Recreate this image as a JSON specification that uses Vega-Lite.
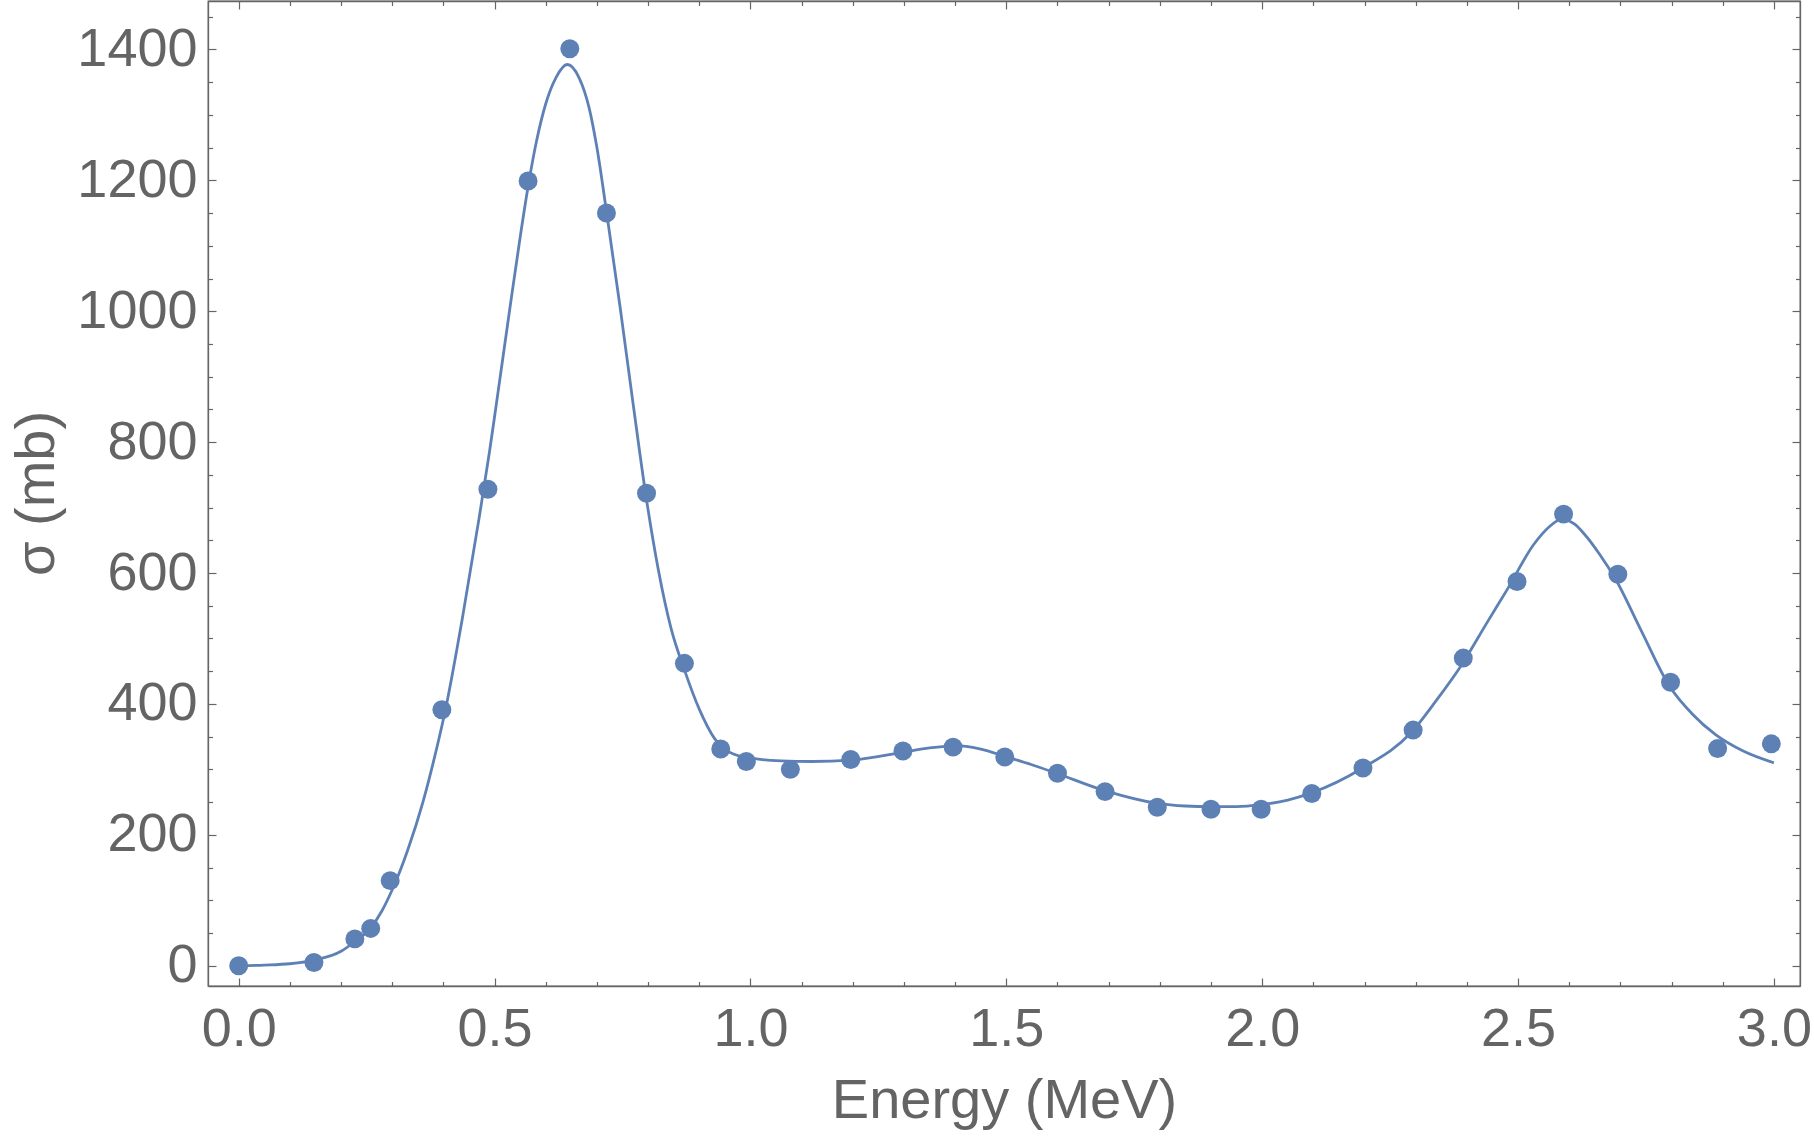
{
  "$schema": "https://vega.github.io/schema/vega-lite/v6.json",
  "width": 1592,
  "height": 985,
  "autosize": "none",
  "padding": {"left": 208, "top": 1, "right": 14, "bottom": 150},
  "background": "white",
  "datasets": {
    "fit": [
      {"E": 0.0, "sigma": 0},
      {"E": 0.05, "sigma": 1},
      {"E": 0.1, "sigma": 3},
      {"E": 0.15, "sigma": 9},
      {"E": 0.2, "sigma": 22},
      {"E": 0.227, "sigma": 37},
      {"E": 0.258, "sigma": 58},
      {"E": 0.28, "sigma": 84},
      {"E": 0.3, "sigma": 116},
      {"E": 0.33, "sigma": 176},
      {"E": 0.36, "sigma": 250},
      {"E": 0.38, "sigma": 310},
      {"E": 0.405, "sigma": 395},
      {"E": 0.438, "sigma": 535},
      {"E": 0.47, "sigma": 685},
      {"E": 0.49, "sigma": 785},
      {"E": 0.502, "sigma": 850},
      {"E": 0.53, "sigma": 1005},
      {"E": 0.55, "sigma": 1113},
      {"E": 0.5665, "sigma": 1195},
      {"E": 0.582, "sigma": 1260},
      {"E": 0.6, "sigma": 1317},
      {"E": 0.62, "sigma": 1357},
      {"E": 0.642, "sigma": 1377},
      {"E": 0.665, "sigma": 1357},
      {"E": 0.685, "sigma": 1310},
      {"E": 0.7, "sigma": 1250},
      {"E": 0.72, "sigma": 1145},
      {"E": 0.745, "sigma": 1008},
      {"E": 0.771, "sigma": 857},
      {"E": 0.795, "sigma": 722},
      {"E": 0.82, "sigma": 605},
      {"E": 0.845, "sigma": 515},
      {"E": 0.871, "sigma": 452},
      {"E": 0.9, "sigma": 392},
      {"E": 0.93, "sigma": 347},
      {"E": 0.96, "sigma": 326},
      {"E": 1.0, "sigma": 317},
      {"E": 1.06, "sigma": 313},
      {"E": 1.12, "sigma": 312},
      {"E": 1.196, "sigma": 314},
      {"E": 1.297, "sigma": 326},
      {"E": 1.35, "sigma": 333},
      {"E": 1.41, "sigma": 336},
      {"E": 1.45, "sigma": 331},
      {"E": 1.497, "sigma": 320},
      {"E": 1.55, "sigma": 307},
      {"E": 1.598, "sigma": 294},
      {"E": 1.694, "sigma": 267},
      {"E": 1.795, "sigma": 248},
      {"E": 1.85, "sigma": 244},
      {"E": 1.899, "sigma": 243},
      {"E": 1.95, "sigma": 243},
      {"E": 1.998, "sigma": 246},
      {"E": 2.05, "sigma": 253},
      {"E": 2.096, "sigma": 264},
      {"E": 2.194, "sigma": 301},
      {"E": 2.292, "sigma": 357},
      {"E": 2.34, "sigma": 405},
      {"E": 2.39, "sigma": 460},
      {"E": 2.44, "sigma": 525},
      {"E": 2.479, "sigma": 575},
      {"E": 2.531, "sigma": 644},
      {"E": 2.56, "sigma": 670},
      {"E": 2.585, "sigma": 682},
      {"E": 2.61, "sigma": 675},
      {"E": 2.629, "sigma": 660},
      {"E": 2.66, "sigma": 628},
      {"E": 2.691, "sigma": 590},
      {"E": 2.74, "sigma": 513},
      {"E": 2.796, "sigma": 427},
      {"E": 2.84, "sigma": 385},
      {"E": 2.886, "sigma": 353},
      {"E": 2.94, "sigma": 328},
      {"E": 3.0, "sigma": 310}
    ],
    "measured": [
      {"E": 0.0, "sigma": 0},
      {"E": 0.147, "sigma": 5},
      {"E": 0.227, "sigma": 41},
      {"E": 0.258, "sigma": 57},
      {"E": 0.296, "sigma": 130},
      {"E": 0.397, "sigma": 391},
      {"E": 0.487, "sigma": 728},
      {"E": 0.5655, "sigma": 1199},
      {"E": 0.647, "sigma": 1401},
      {"E": 0.7186, "sigma": 1150},
      {"E": 0.797, "sigma": 722},
      {"E": 0.871, "sigma": 462},
      {"E": 0.942, "sigma": 331},
      {"E": 0.992, "sigma": 312},
      {"E": 1.078, "sigma": 300},
      {"E": 1.196, "sigma": 315},
      {"E": 1.298, "sigma": 328},
      {"E": 1.396, "sigma": 334},
      {"E": 1.497, "sigma": 319},
      {"E": 1.6, "sigma": 294},
      {"E": 1.693, "sigma": 266},
      {"E": 1.795, "sigma": 242},
      {"E": 1.9, "sigma": 239},
      {"E": 1.998, "sigma": 239},
      {"E": 2.097, "sigma": 263},
      {"E": 2.197, "sigma": 302},
      {"E": 2.295, "sigma": 360},
      {"E": 2.393, "sigma": 470},
      {"E": 2.498, "sigma": 587},
      {"E": 2.589, "sigma": 690},
      {"E": 2.695, "sigma": 598},
      {"E": 2.798, "sigma": 433},
      {"E": 2.89, "sigma": 332},
      {"E": 2.995, "sigma": 339}
    ]
  },
  "layer": [
    {
      "data": {"name": "fit"},
      "mark": {"type": "line", "color": "#5E81B5", "strokeWidth": 2.8, "interpolate": "monotone", "clip": true},
      "encoding": {
        "x": {
          "field": "E",
          "type": "quantitative",
          "scale": {"domain": [-0.06, 3.051], "nice": false, "zero": false},
          "axis": {
            "orient": "bottom",
            "title": "Energy (MeV)",
            "values": [0, 0.1, 0.2, 0.3, 0.4, 0.5, 0.6, 0.7, 0.8, 0.9, 1, 1.1, 1.2, 1.3, 1.4, 1.5, 1.6, 1.7, 1.8, 1.9, 2, 2.1, 2.2, 2.3, 2.4, 2.5, 2.6, 2.7, 2.8, 2.9, 3],
            "labelExpr": "abs(datum.value * 2 - round(datum.value * 2)) < 0.001 ? format(datum.value, '.1f') : ''",
            "tickSize": {"condition": {"test": "abs(datum.value * 2 - round(datum.value * 2)) < 0.001", "value": -8}, "value": -4.5},
            "labelPadding": 24,
            "titlePadding": 14
          }
        },
        "y": {
          "field": "sigma",
          "type": "quantitative",
          "scale": {"domain": [-31, 1474], "nice": false, "zero": false},
          "axis": {
            "orient": "left",
            "title": "σ (mb)",
            "values": [0, 50, 100, 150, 200, 250, 300, 350, 400, 450, 500, 550, 600, 650, 700, 750, 800, 850, 900, 950, 1000, 1050, 1100, 1150, 1200, 1250, 1300, 1350, 1400, 1450],
            "labelExpr": "datum.value % 200 == 0 ? format(datum.value, 'd') : ''",
            "tickSize": {"condition": {"test": "datum.value % 200 == 0", "value": -8}, "value": -4.5},
            "labelPadding": 19,
            "titleX": -172,
            "titleY": 492,
            "titleBaseline": "middle",
            "titleAlign": "center",
            "titleAngle": -90
          }
        }
      }
    },
    {
      "data": {"name": "measured"},
      "mark": {"type": "point", "filled": true, "size": 360, "color": "#5E81B5", "opacity": 1},
      "encoding": {
        "x": {
          "field": "E",
          "type": "quantitative",
          "axis": {
            "orient": "top",
            "title": null,
            "labels": false,
            "values": [0, 0.1, 0.2, 0.3, 0.4, 0.5, 0.6, 0.7, 0.8, 0.9, 1, 1.1, 1.2, 1.3, 1.4, 1.5, 1.6, 1.7, 1.8, 1.9, 2, 2.1, 2.2, 2.3, 2.4, 2.5, 2.6, 2.7, 2.8, 2.9, 3],
            "tickSize": {"condition": {"test": "abs(datum.value * 2 - round(datum.value * 2)) < 0.001", "value": -8}, "value": -4.5}
          }
        },
        "y": {
          "field": "sigma",
          "type": "quantitative",
          "axis": {
            "orient": "right",
            "title": null,
            "labels": false,
            "values": [0, 50, 100, 150, 200, 250, 300, 350, 400, 450, 500, 550, 600, 650, 700, 750, 800, 850, 900, 950, 1000, 1050, 1100, 1150, 1200, 1250, 1300, 1350, 1400, 1450],
            "tickSize": {"condition": {"test": "datum.value % 200 == 0", "value": -8}, "value": -4.5}
          }
        }
      }
    }
  ],
  "resolve": {"axis": {"x": "independent", "y": "independent"}},
  "config": {
    "view": {"stroke": "#666666", "strokeWidth": 1.3},
    "axis": {
      "grid": false,
      "domainColor": "#666666",
      "domainWidth": 1.3,
      "tickColor": "#666666",
      "tickWidth": 1.2,
      "labelFont": "Liberation Sans",
      "labelFontSize": 54,
      "labelColor": "#646464",
      "labelFlush": false,
      "labelOverlap": false,
      "titleFont": "Liberation Sans",
      "titleFontSize": 56,
      "titleFontWeight": "normal",
      "titleColor": "#646464"
    }
  }
}
